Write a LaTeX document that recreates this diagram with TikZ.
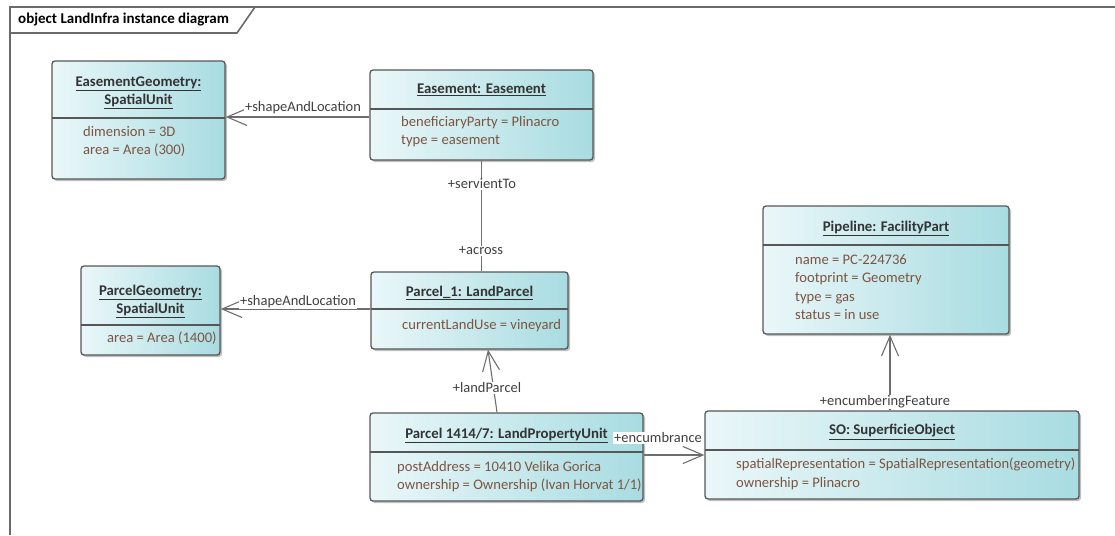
\documentclass[tikz,border=0pt]{standalone}
\usepackage{fontspec}
\setmainfont{Carlito}
\usepackage{tikz}
\usetikzlibrary{arrows.meta,shadows}

\definecolor{framegray}{HTML}{6A6A6A}
\definecolor{boxedge}{HTML}{575757}
\definecolor{boxleft}{HTML}{EAF7F9}
\definecolor{boxright}{HTML}{A8DCE1}
\definecolor{attrbrown}{HTML}{7D5442}
\definecolor{linkgray}{HTML}{6E6E6E}

\tikzset{
  frameline/.style = {draw=framegray, line width=1.6pt},
  objbox/.style = {rectangle, rounded corners=3pt, draw=boxedge, line width=1.3pt,
    left color=boxleft, right color=boxright, inner sep=0pt,
    drop shadow={shadow xshift=2pt, shadow yshift=-2pt, opacity=0.25, fill=black}},% object
  objtitle/.style = {align=center, font=\fontsize{14.8}{17.5}\selectfont\bfseries, text=black!80},% name: class
  objattr/.style = {align=left, anchor=north west, inner sep=0pt,
    font=\fontsize{14.6}{18.6}\selectfont, text=attrbrown},% slots
  divline/.style = {draw=boxedge, line width=1.1pt},
  assoc/.style = {draw=linkgray, line width=1.1pt},
  nav/.style = {assoc, -{Straight Barb[length=20pt, width=17pt, line width=1.1pt]}},% navigable end
  role/.style = {fill=white, inner sep=1pt, font=\fontsize{14.5}{16}\selectfont, text=black!75}% role name
}

\begin{document}
\begin{tikzpicture}[x=1pt, y=-1pt]
\useasboundingbox (0,0) rectangle (1115,535);

% frame
\draw[frameline] (10,535) -- (10,7) -- (1115,7);
\draw[frameline] (10,33) -- (237,33) -- (255,7);
\node[anchor=west, inner sep=0pt, font=\fontsize{15}{17}\selectfont\bfseries] (frametitle) at (18,20) {object LandInfra instance diagram};

% objects
\node[objbox, minimum width=173pt, minimum height=118pt] (egeom) at (138.5,120) {};
\draw[divline] (52,118) -- (225,118);
\node[objtitle] (egeomt) at (138.5,93) {\underline{EasementGeometry:}\\\underline{SpatialUnit}};
\node[objattr] (egeoma) at (83,126) {dimension = 3D\\area = Area (300)};

\node[objbox, minimum width=223pt, minimum height=90pt] (eas) at (481.5,115) {};
\draw[divline] (370,109) -- (593,109);
\node[objtitle] (east) at (481.5,90) {\underline{Easement: Easement}};
\node[objattr] (easa) at (401,116) {beneficiaryParty = Plinacro\\type = easement};

\node[objbox, minimum width=139pt, minimum height=89pt] (pgeom) at (150.5,310.5) {};
\draw[divline] (81,325) -- (220,325);
\node[objtitle] (pgeomt) at (150.5,301.5) {\underline{ParcelGeometry:}\\\underline{SpatialUnit}};
\node[objattr] (pgeoma) at (107,332) {area = Area (1400)};

\node[objbox, minimum width=197pt, minimum height=77pt] (lp1) at (469.5,310.5) {};
\draw[divline] (371,309) -- (568,309);
\node[objtitle] (lp1t) at (469.5,293) {\underline{Parcel\_1: LandParcel}};
\node[objattr] (lp1a) at (402,319) {currentLandUse = vineyard};

\node[objbox, minimum width=273pt, minimum height=88pt] (lpu) at (506.5,457) {};
\draw[divline] (370,452) -- (643,452);
\node[objtitle] (lput) at (506.5,435) {\underline{Parcel 1414/7: LandPropertyUnit}};
\node[objattr] (lpua) at (397,461) {postAddress = 10410 Velika Gorica\\ownership = Ownership (Ivan Horvat 1/1)};

\node[objbox, minimum width=246pt, minimum height=128pt] (pipe) at (886,270) {};
\draw[divline] (763,245) -- (1009,245);
\node[objtitle] (pipet) at (886,228) {\underline{Pipeline: FacilityPart}};
\node[objattr] (pipea) at (795,254) {name = PC-224736\\footprint = Geometry\\type = gas\\status = in use};

\node[objbox, minimum width=374pt, minimum height=88pt] (so) at (892,455) {};
\draw[divline] (705,450) -- (1079,450);
\node[objtitle] (sot) at (892,432) {\underline{SO: SuperficieObject}};
\node[objattr] (soa) at (736,458) {spatialRepresentation = SpatialRepresentation(geometry)\\ownership = Plinacro};

% links
\draw[nav] (eas.west |- 0,117) -- (egeom.east |- 0,117);
\draw[assoc] (eas.south) -- (eas.south |- lp1.north);
\draw[nav] (lp1.west |- 0,309) -- (pgeom.east |- 0,309);
\draw[nav] (lpu.north -| 497,0) -- (lp1.south -| 488,0);
\draw[nav] (lpu.east |- 0,455) -- (so.west |- 0,455);
\draw[nav] (so.north -| 890,0) -- (pipe.south -| 890,0);

% role names
\node[role] (r_eshape) at (303,108) {+shapeAndLocation};
\node[role] (r_serv) at (482,184) {+servientTo};
\node[role] (r_across) at (481,251) {+across};
\node[role] (r_pshape) at (298,302) {+shapeAndLocation};
\node[role] (r_land) at (487,388) {+landParcel};
\node[role] (r_enc) at (658,438) {+encumbrance};
\node[role] (r_feat) at (885,402) {+encumberingFeature};
\end{tikzpicture}
\end{document}
